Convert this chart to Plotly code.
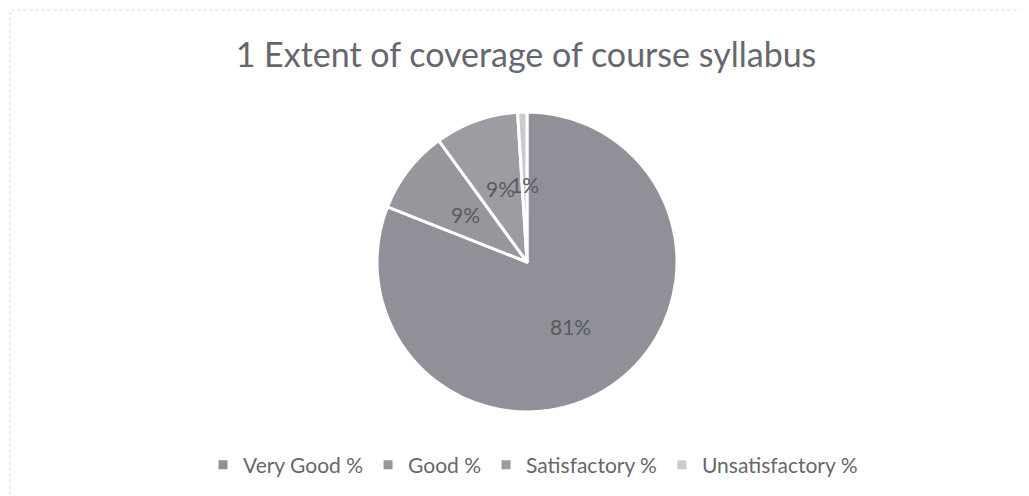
import math
import plotly.graph_objects as go

# Data
categories = ["Very Good %", "Good %", "Satisfactory %", "Unsatisfactory %"]
values = [81, 9, 9, 1]
label_text = ["81%", "9%", "9%", "1%"]
title_text = "1 Extent of coverage of course syllabus"

colors = ["#909198", "#96979d", "#9c9da2", "#cbcbce"]

OFF = 8  # default page body margin
W, H = 1029 - OFF, 496 - OFF
# pie geometry (page pixels -> figure pixels)
cx, cy, r = 527 - OFF, 262 - OFF, 150

fig = go.Figure()
fig.add_trace(go.Pie(
    labels=categories,
    values=values,
    sort=False,
    direction="clockwise",
    rotation=0,
    textinfo="none",
    hoverinfo="label+percent",
    marker=dict(colors=colors, line=dict(color="white", width=3)),
    domain=dict(x=[(cx - r) / W, (cx + r) / W], y=[1 - (cy + r) / H, 1 - (cy - r) / H]),
))

# data labels placed along each slice's bisector (like Excel's default)
total = sum(values)
cum = 0.0
for v, t in zip(values, label_text):
    mid = (cum + v / 2) / total * 360.0
    cum += v
    ang = math.radians(90 - mid)
    px = cx + 0.52 * r * math.cos(ang)
    py = cy - 0.52 * r * math.sin(ang)
    fig.add_annotation(x=px / W, y=1 - py / H, xref="paper", yref="paper",
                       text=t, showarrow=False,
                       font=dict(family="Lato", size=21, color="#585961"))

fig.update_layout(
    width=W, height=H,
    margin=dict(l=0, r=0, t=0, b=0),
    paper_bgcolor="white",
    plot_bgcolor="white",
    title=dict(text=title_text, x=(526 - OFF) / W, xanchor="center", y=1 - (55 - OFF) / H, yanchor="middle",
               font=dict(family="Lato", size=34, color="#66676e")),
    legend=dict(orientation="h", x=(533 - OFF) / W, xanchor="center", y=1 - (465 - OFF) / H, yanchor="middle",
                font=dict(family="Lato", size=21, color="#66676e"),
                itemwidth=30, bgcolor="rgba(0,0,0,0)"),
    shapes=[dict(type="rect", xref="paper", yref="paper",
                 x0=(10 - OFF) / W, x1=1.05, y0=-0.05, y1=1 - (10 - OFF) / H,
                 line=dict(color="#dcdcdc", width=1, dash="dot"))],
)

fig.write_html("out.html")
